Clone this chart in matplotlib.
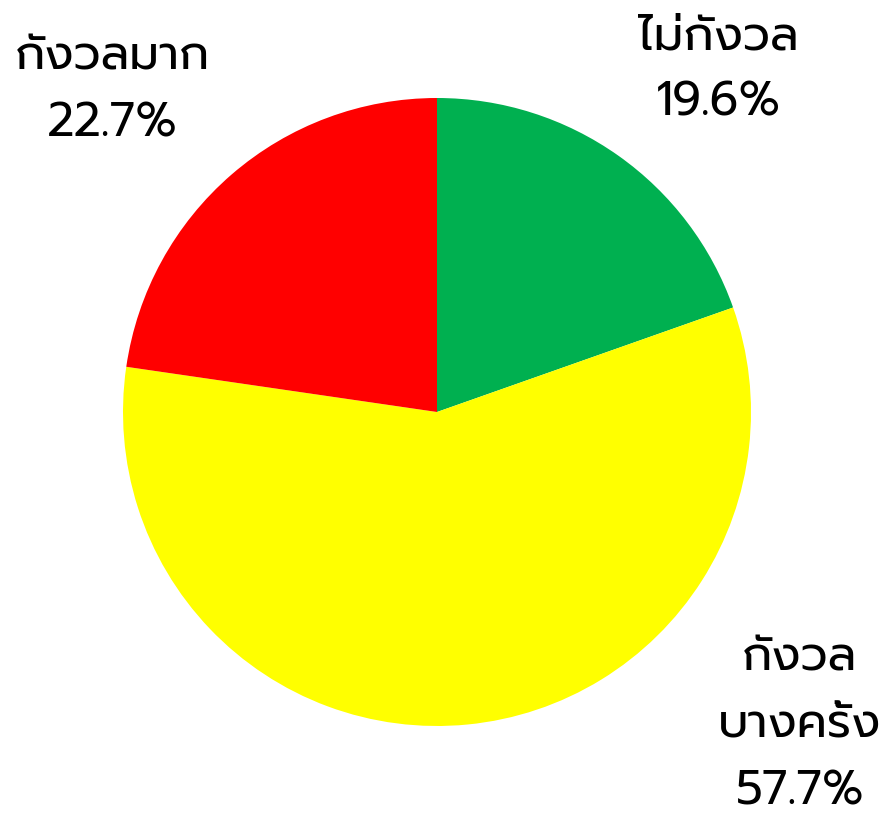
import matplotlib
matplotlib.use("Agg")
import matplotlib.pyplot as plt

# data
categories = ["ไม่กังวล", "กังวล\nบางครั้ง", "กังวลมาก"]
shares = [19.6, 57.7, 22.7]
colors = ["#00B050", "#FFFF00", "#FF0000"]

# label anchor points (data units, pie radius = 1)
label_pos = [(0.895, 1.089), (1.156, -0.997), (-1.035, 1.025)]

plt.rcParams["font.family"] = ["Prompt", "DejaVu Sans"]

fig = plt.figure(figsize=(8.87, 8.18), dpi=100)
ax = fig.add_axes([0, 0, 1, 1])

ax.pie(shares, colors=colors, startangle=90, counterclock=False,
       radius=1, center=(0, 0), wedgeprops=dict(linewidth=0))

for name, val, (x, y) in zip(categories, shares, label_pos):
    ax.text(x, y, f"{name}\n{val:.1f}%", ha="center", va="center",
            fontsize=34, linespacing=1.55, color="black")

ax.set_xlim(-437 / 314, 450 / 314)
ax.set_ylim(-406 / 314, 412 / 314)
ax.set_aspect("equal")
ax.axis("off")

fig.savefig("out.png", dpi=100)
